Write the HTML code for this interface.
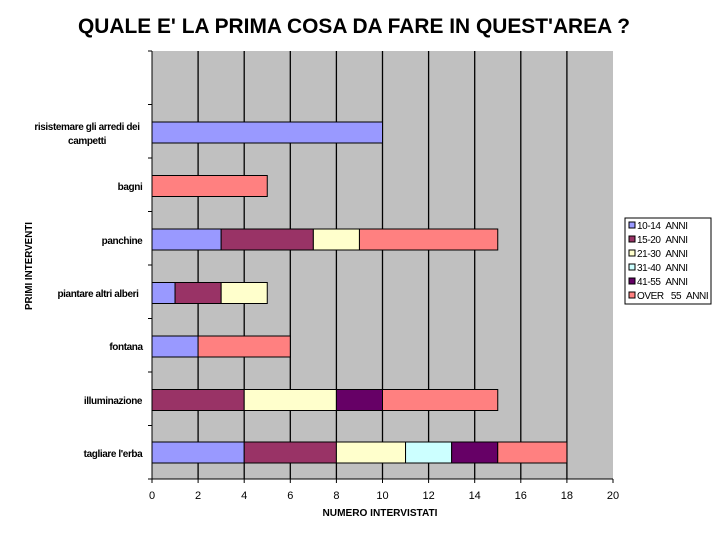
<!DOCTYPE html>
<html><head><meta charset="utf-8"><style>html,body{margin:0;padding:0;background:#fff}svg{display:block}</style></head>
<body>
<svg width="720" height="540" xmlns="http://www.w3.org/2000/svg" font-family="Liberation Sans, sans-serif">
<text x="354" y="33" font-size="21" font-weight="bold" text-anchor="middle" textLength="552" lengthAdjust="spacingAndGlyphs">QUALE E' LA PRIMA COSA DA FARE IN QUEST'AREA ?</text>
<rect x="152" y="51" width="461" height="428" fill="#c0c0c0"/>
<g stroke="#000" stroke-width="1.3">
<line x1="198.1" y1="51" x2="198.1" y2="479"/><line x1="244.2" y1="51" x2="244.2" y2="479"/>
<line x1="290.3" y1="51" x2="290.3" y2="479"/><line x1="336.4" y1="51" x2="336.4" y2="479"/>
<line x1="382.5" y1="51" x2="382.5" y2="479"/><line x1="428.6" y1="51" x2="428.6" y2="479"/>
<line x1="474.7" y1="51" x2="474.7" y2="479"/><line x1="520.8" y1="51" x2="520.8" y2="479"/>
<line x1="566.9" y1="51" x2="566.9" y2="479"/>
</g>
<g stroke="#000" stroke-width="1">
<line x1="152" y1="51" x2="152" y2="479"/><line x1="152" y1="479" x2="613" y2="479"/>
<line x1="148" y1="51" x2="152" y2="51"/><line x1="148" y1="104.5" x2="152" y2="104.5"/>
<line x1="148" y1="158" x2="152" y2="158"/><line x1="148" y1="211.5" x2="152" y2="211.5"/>
<line x1="148" y1="265" x2="152" y2="265"/><line x1="148" y1="318.5" x2="152" y2="318.5"/>
<line x1="148" y1="372" x2="152" y2="372"/><line x1="148" y1="425.5" x2="152" y2="425.5"/>
<line x1="148" y1="479" x2="152" y2="479"/>
<line x1="152" y1="479" x2="152" y2="483"/><line x1="198.1" y1="479" x2="198.1" y2="483"/>
<line x1="244.2" y1="479" x2="244.2" y2="483"/><line x1="290.3" y1="479" x2="290.3" y2="483"/>
<line x1="336.4" y1="479" x2="336.4" y2="483"/><line x1="382.5" y1="479" x2="382.5" y2="483"/>
<line x1="428.6" y1="479" x2="428.6" y2="483"/><line x1="474.7" y1="479" x2="474.7" y2="483"/>
<line x1="520.8" y1="479" x2="520.8" y2="483"/><line x1="566.9" y1="479" x2="566.9" y2="483"/>
<line x1="613" y1="479" x2="613" y2="483"/>
</g>
<g stroke="#000" stroke-width="1">
<rect x="152" y="122" width="230.5" height="21" fill="#9999ff"/>
<rect x="152" y="175.5" width="115.25" height="21" fill="#ff8080"/>
<rect x="152" y="229" width="69.15" height="21" fill="#9999ff"/>
<rect x="221.15" y="229" width="92.2" height="21" fill="#993366"/>
<rect x="313.35" y="229" width="46.1" height="21" fill="#ffffcc"/>
<rect x="359.45" y="229" width="138.3" height="21" fill="#ff8080"/>
<rect x="152" y="282.5" width="23.05" height="21" fill="#9999ff"/>
<rect x="175.05" y="282.5" width="46.1" height="21" fill="#993366"/>
<rect x="221.15" y="282.5" width="46.1" height="21" fill="#ffffcc"/>
<rect x="152" y="336" width="46.1" height="21" fill="#9999ff"/>
<rect x="198.1" y="336" width="92.2" height="21" fill="#ff8080"/>
<rect x="152" y="389.5" width="92.2" height="21" fill="#993366"/>
<rect x="244.2" y="389.5" width="92.2" height="21" fill="#ffffcc"/>
<rect x="336.4" y="389.5" width="46.1" height="21" fill="#660066"/>
<rect x="382.5" y="389.5" width="115.25" height="21" fill="#ff8080"/>
<rect x="152" y="442" width="92.2" height="21" fill="#9999ff"/>
<rect x="244.2" y="442" width="92.2" height="21" fill="#993366"/>
<rect x="336.4" y="442" width="69.15" height="21" fill="#ffffcc"/>
<rect x="405.55" y="442" width="46.1" height="21" fill="#ccffff"/>
<rect x="451.65" y="442" width="46.1" height="21" fill="#660066"/>
<rect x="497.75" y="442" width="69.15" height="21" fill="#ff8080"/>
</g>
<g font-size="10" font-weight="bold" text-anchor="middle" letter-spacing="-0.4">
<text x="87" y="130">risistemare gli arredi dei</text>
<text x="87" y="144">campetti</text>
<text x="130" y="190">bagni</text>
<text x="122" y="244">panchine</text>
<text x="98" y="297">piantare altri alberi</text>
<text x="126" y="350">fontana</text>
<text x="113" y="404">illuminazione</text>
<text x="113" y="457">tagliare l'erba</text>
</g>
<g font-size="11" text-anchor="middle">
<text x="152" y="499">0</text><text x="198.1" y="499">2</text><text x="244.2" y="499">4</text>
<text x="290.3" y="499">6</text><text x="336.4" y="499">8</text><text x="382.5" y="499">10</text>
<text x="428.6" y="499">12</text><text x="474.7" y="499">14</text><text x="520.8" y="499">16</text>
<text x="566.9" y="499">18</text><text x="613" y="499">20</text>
</g>
<text x="380" y="516" font-size="10" font-weight="bold" text-anchor="middle" textLength="115" lengthAdjust="spacingAndGlyphs">NUMERO INTERVISTATI</text>
<text transform="translate(32,266) rotate(-90)" font-size="10" font-weight="bold" text-anchor="middle" textLength="88" lengthAdjust="spacingAndGlyphs">PRIMI INTERVENTI</text>
<rect x="625" y="218" width="86" height="86" fill="#fff" stroke="#000" stroke-width="1"/>
<g stroke="#000" stroke-width="1">
<rect x="629" y="222" width="6" height="6" fill="#9999ff"/>
<rect x="629" y="236" width="6" height="6" fill="#993366"/>
<rect x="629" y="250" width="6" height="6" fill="#ffffcc"/>
<rect x="629" y="264" width="6" height="6" fill="#ccffff"/>
<rect x="629" y="278" width="6" height="6" fill="#660066"/>
<rect x="629" y="292" width="6" height="6" fill="#ff8080"/>
</g>
<g font-size="10" letter-spacing="-0.4">
<text x="637" y="229">10-14&#160;&#160;ANNI</text>
<text x="637" y="243">15-20&#160;&#160;ANNI</text>
<text x="637" y="257">21-30&#160;&#160;ANNI</text>
<text x="637" y="271">31-40&#160;&#160;ANNI</text>
<text x="637" y="285">41-55&#160;&#160;ANNI</text>
<text x="637" y="299">OVER&#160;&#160;&#160;55&#160;&#160;ANNI</text>
</g>
</svg>
</body></html>
